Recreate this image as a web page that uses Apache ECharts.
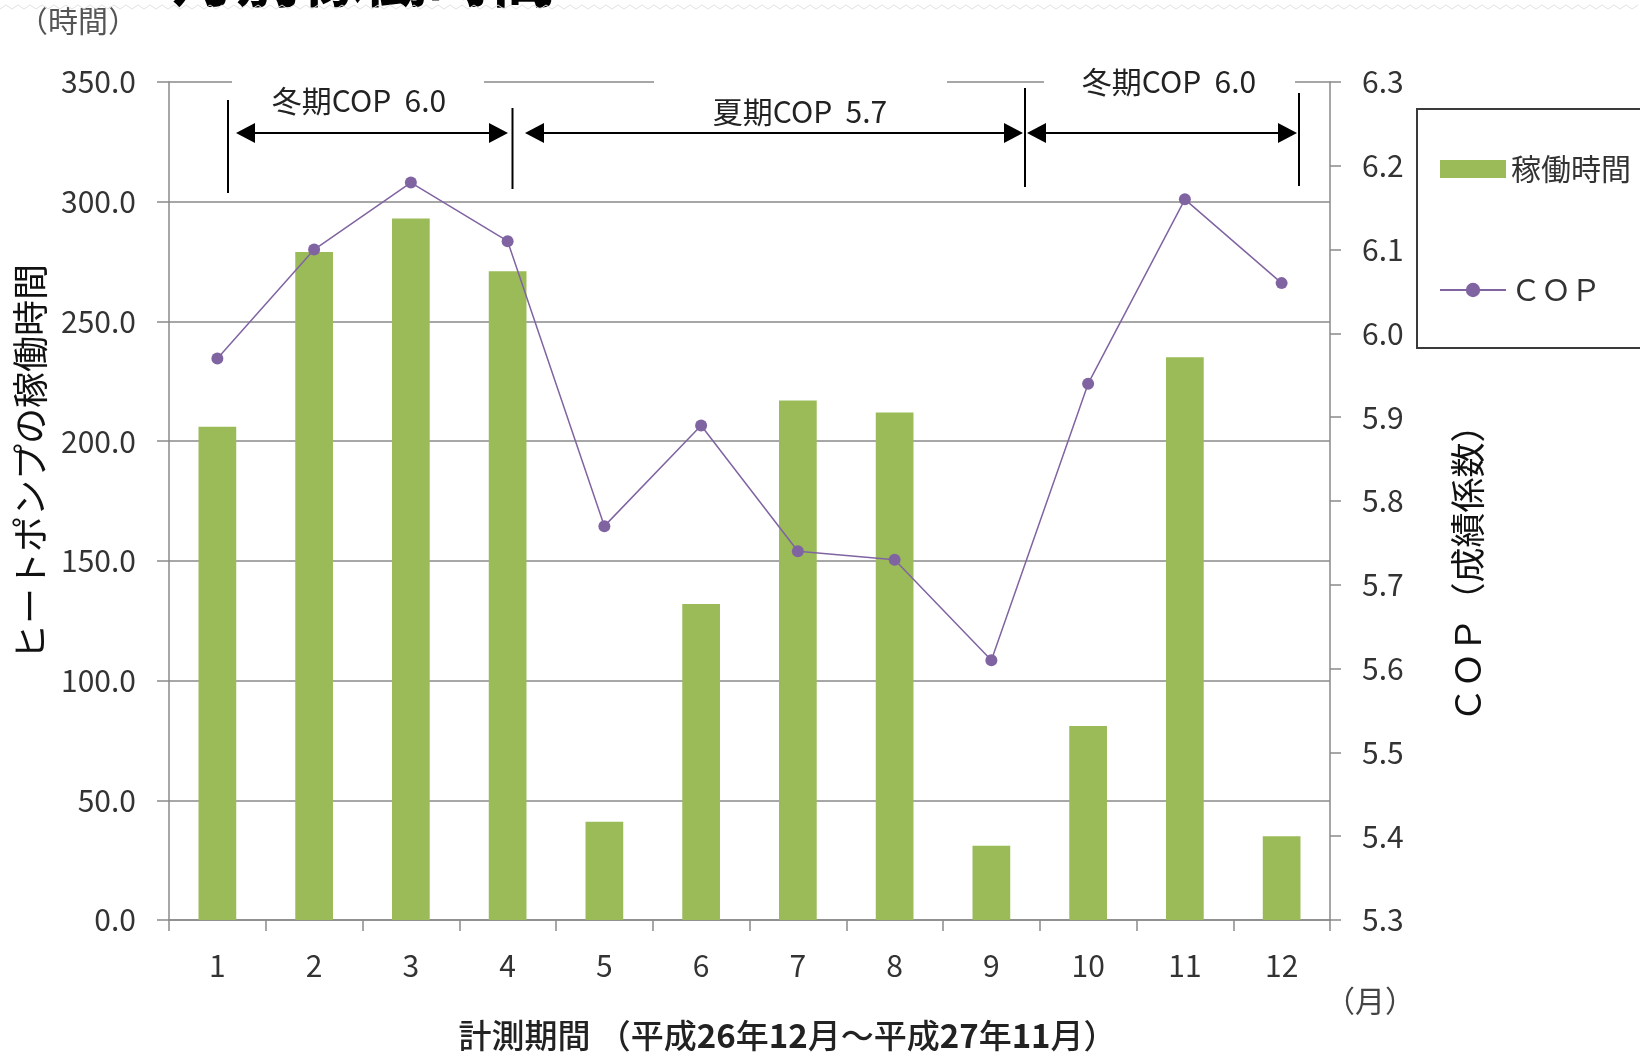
<!DOCTYPE html>
<html><head><meta charset="utf-8">
<script src="https://cdn.jsdelivr.net/npm/echarts@6/dist/echarts.min.js"></script>
<style>html,body{margin:0;padding:0;background:#fff}#c{width:1640px;height:1052px}</style>
</head><body><div id="c"></div>
<script>
// ---- data ----
const months = ['1','2','3','4','5','6','7','8','9','10','11','12'];
const hours = [206, 279, 293, 271, 41, 132, 217, 212, 31, 81, 235, 35];
const cop = [5.97, 6.10, 6.18, 6.11, 5.77, 5.89, 5.74, 5.73, 5.61, 5.94, 6.16, 6.06];
const hourAxis = {min: 0, max: 350, interval: 50};
const copAxis = {min: 5.3, max: 6.3, interval: 0.1};
const periodLabels = ['冬期COP  6.0', '夏期COP  5.7', '冬期COP  6.0'];
const seriesNames = ['稼働時間', 'ＣＯＰ'];
const leftName = 'ヒートポンプの稼働時間';
const rightName = 'ＣＯＰ（成績係数）';
const unitHours = '（時間）';
const unitMonth = '（月）';

const FONT = '"Noto Sans CJK JP", "Noto Sans", sans-serif';
const GRAY = '#8a8a8a';
const TXT = '#333';

const chart = echarts.init(document.getElementById('c'));

// annotation layout (decoration)
const boxes = [[232, 484, 359, 101], [654, 947, 800, 112], [1044, 1295, 1169, 82]];
const vlines = [[228, 100, 193], [512.5, 108, 189], [1025, 88, 187], [1299, 93, 186]];
const arrows = [[236, 508], [525, 1023], [1027, 1297]];
const arrowY = 133;

const graphics = [];
boxes.forEach((b, i) => {
  graphics.push({type: 'rect', z: 10, shape: {x: b[0], y: 70, width: b[1] - b[0], height: 24}, style: {fill: '#fff'}});
  graphics.push({type: 'text', z: 11, x: b[2], y: b[3], style: {text: periodLabels[i], font: '30px ' + FONT, fill: '#222', align: 'center', verticalAlign: 'middle'}});
});
vlines.forEach(v => graphics.push({type: 'line', z: 11, shape: {x1: v[0], y1: v[1], x2: v[0], y2: v[2]}, style: {stroke: '#000', lineWidth: 2}}));
arrows.forEach(a => {
  graphics.push({type: 'line', z: 11, shape: {x1: a[0] + 10, y1: arrowY, x2: a[1] - 10, y2: arrowY}, style: {stroke: '#000', lineWidth: 2}});
  graphics.push({type: 'polygon', z: 11, shape: {points: [[a[0], arrowY], [a[0] + 19, arrowY - 10], [a[0] + 19, arrowY + 10]]}, style: {fill: '#000'}});
  graphics.push({type: 'polygon', z: 11, shape: {points: [[a[1], arrowY], [a[1] - 19, arrowY - 10], [a[1] - 19, arrowY + 10]]}, style: {fill: '#000'}});
});
// legend frame
graphics.push({type: 'rect', z: 5, shape: {x: 1417, y: 109, width: 300, height: 239}, style: {fill: 'none', stroke: '#3a3a3a', lineWidth: 2}});
// unit texts
graphics.push({type: 'text', x: 78, y: 21, style: {text: unitHours, font: '30px ' + FONT, fill: '#555', align: 'center', verticalAlign: 'middle'}});
graphics.push({type: 'text', x: 1370, y: 1001, style: {text: unitMonth, font: '30px ' + FONT, fill: '#444', align: 'center', verticalAlign: 'middle'}});
// clipped heading fragment at very top
graphics.push({type: 'text', x: 172, y: 9, style: {text: '月別稼働時間', font: 'bold 64px ' + FONT, fill: '#000', align: 'left', verticalAlign: 'bottom'}});
// light wavy rule at top
const wave = [];
for (let x = 0; x <= 1640; x += 6) wave.push([x, (x / 6) % 2 ? 5 : 9]);
graphics.push({type: 'polyline', z: 1, shape: {points: wave}, style: {stroke: '#e2e2e2', lineWidth: 1}});

chart.setOption({
  backgroundColor: '#fff',
  animation: false,
  textStyle: {fontFamily: FONT},
  grid: {left: 169, right: 310, top: 82, bottom: 132, containLabel: false, outerBoundsMode: 'none'},
  legend: {
    orient: 'vertical', left: 1434, top: 149, itemGap: 91,
    itemWidth: 66, itemHeight: 18,
    data: [{name: seriesNames[0], icon: 'rect'}, {name: seriesNames[1]}],
    textStyle: {fontSize: 30, color: TXT, fontFamily: FONT}
  },
  xAxis: {
    type: 'category', data: months,
    axisLine: {lineStyle: {color: GRAY, width: 1.5}},
    axisTick: {show: true, length: 11, lineStyle: {color: GRAY, width: 1.5}},
    axisLabel: {fontSize: 30, color: TXT, margin: 31},
    name: '{n|計測期間 （平成}{b|26}{n|年}{b|12}{n|月～平成}{b|27}{n|年}{b|11}{n|月）}',
    nameLocation: 'middle', nameGap: 99,
    nameTextStyle: {
      padding: [0, 0, 0, 76],
      rich: {
        n: {fontSize: 33, color: '#222', fontWeight: 500, fontFamily: FONT},
        b: {fontSize: 33, color: '#222', fontWeight: 'bold', fontFamily: FONT}
      }
    }
  },
  yAxis: [{
    type: 'value', min: hourAxis.min, max: hourAxis.max, interval: hourAxis.interval,
    axisLine: {show: true, lineStyle: {color: GRAY, width: 1.5}},
    axisTick: {show: true, length: 12, lineStyle: {color: GRAY, width: 1.5}},
    splitLine: {show: true, lineStyle: {color: GRAY, width: 1.5}},
    axisLabel: {fontSize: 30, color: TXT, margin: 33, formatter: v => v.toFixed(1)},
    name: leftName, nameLocation: 'middle', nameRotate: 90, nameGap: 121,
    nameTextStyle: {fontSize: 36, color: '#111', padding: [0, 0, 0, 78]}
  }, {
    type: 'value', position: 'right', min: copAxis.min, max: copAxis.max, interval: copAxis.interval,
    axisLine: {show: true, lineStyle: {color: GRAY, width: 1.5}},
    axisTick: {show: true, length: 11, lineStyle: {color: GRAY, width: 1.5}},
    splitLine: {show: false},
    axisLabel: {fontSize: 30, color: TXT, margin: 32, formatter: v => v.toFixed(1)},
    name: rightName, nameLocation: 'middle', nameRotate: 90, nameGap: 120,
    nameTextStyle: {fontSize: 35, color: '#111', padding: [0, 128, 0, 0]}
  }],
  series: [{
    name: seriesNames[0], type: 'bar', data: hours, barWidth: '39%',
    itemStyle: {color: '#9BBB59'}, z: 2
  }, {
    name: seriesNames[1], type: 'line', yAxisIndex: 1, data: cop,
    symbol: 'circle', symbolSize: 12,
    lineStyle: {color: '#8064A2', width: 1.5},
    itemStyle: {color: '#8064A2'}, z: 3
  }],
  graphic: graphics
});
</script></body></html>
